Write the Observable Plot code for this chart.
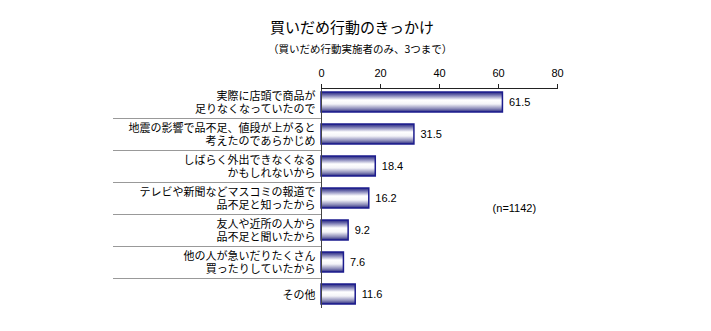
<!DOCTYPE html>
<html>
<head>
<meta charset="utf-8">
<script src="https://cdn.jsdelivr.net/npm/d3@7"></script>
<script src="https://cdn.jsdelivr.net/npm/@observablehq/plot@0.6"></script>
<style>
  body { margin: 0; background: #fff; font-family: "Noto Sans CJK JP", sans-serif; }
  #wrap { position: relative; width: 711px; height: 331px; }
  #title { position: absolute; left: 270px; top: 16px; font-size: 15px; color: #000; line-height: 22px; }
  #sub { position: absolute; left: 268px; top: 41px; font-size: 10.5px; color: #000; line-height: 16px; }
  #chart { position: absolute; left: 0; top: 60px; }
</style>
</head>
<body>
<div id="wrap">
  <div id="title">買いだめ行動のきっかけ</div>
  <div id="sub">（買いだめ行動実施者のみ、3つまで）</div>
  <div id="chart"></div>
</div>
<script>
const categories = [
  "実際に店頭で商品が\n足りなくなっていたので",
  "地震の影響で品不足、値段が上がると\n考えたのであらかじめ",
  "しばらく外出できなくなる\nかもしれないから",
  "テレビや新聞などマスコミの報道で\n品不足と知ったから",
  "友人や近所の人から\n品不足と聞いたから",
  "他の人が急いだりたくさん\n買ったりしていたから",
  "その他"
];
const values = [61.5, 31.5, 18.4, 16.2, 9.2, 7.6, 11.6];
const xTicks = [0, 20, 40, 60, 80];
const note = "(n=1142)";

const data = categories.map((c, i) => ({cat: c, value: values[i]}));

const chart = Plot.plot({
  width: 711,
  height: 271,
  marginLeft: 321,
  marginRight: 154,
  marginTop: 28,
  marginBottom: 23,
  style: {background: "transparent", fontFamily: "Noto Sans CJK JP, sans-serif"},
  x: {domain: [0, 80], ticks: xTicks},
  y: {domain: categories, range: [24, 251], padding: 0},
  marks: [
    Plot.axisX({anchor: "top", ticks: xTicks, tickSize: 5, tickPadding: 7, fontSize: 11,
      fontFamily: "Liberation Sans, Arial, sans-serif", stroke: "#222", label: null}),
    Plot.axisY({anchor: "left", tickSize: 0, tickPadding: 6, fontSize: 11, lineHeight: 1.2,
      label: null, tickFormat: d => d}),
    Plot.barX(data, {x: "value", y: "cat", fill: "url(#barGrad)", stroke: "#1c1c8e",
      strokeWidth: 1.5, insetTop: 6, insetBottom: 6}),
    Plot.text(data, {x: "value", y: "cat", text: d => d.value.toFixed(1), textAnchor: "start",
      dx: 6, fontSize: 11, fontFamily: "Liberation Sans, Arial, sans-serif", fill: "#000"}),
    Plot.text([note], {x: 58, y: [categories[3]], text: d => d, textAnchor: "start", dy: 10,
      fontSize: 11, fontFamily: "Liberation Sans, Arial, sans-serif", fill: "#000"}),
    Plot.ruleX([0], {stroke: "#444", strokeWidth: 1})
  ]
});

document.getElementById("chart").appendChild(chart);

const svg = d3.select(chart);
const defs = svg.insert("defs", ":first-child");
const g = defs.append("linearGradient").attr("id", "barGrad")
  .attr("x1", 0).attr("y1", 0).attr("x2", 0).attr("y2", 1);
[[0, "#24247f"], [0.12, "#6060a4"], [0.4, "#ffffff"], [0.6, "#f4f4f8"], [0.85, "#8484b4"], [1, "#24247f"]]
  .forEach(([o, c]) => g.append("stop").attr("offset", o).attr("stop-color", c));

const xs = chart.scale("x");
const ys = chart.scale("y");
const x0 = xs.apply(0), x80 = xs.apply(80);
// top axis line
svg.append("line").attr("x1", x0).attr("x2", x80).attr("y1", 28.5).attr("y2", 28.5)
  .attr("stroke", "#222");
// separators between category rows
categories.slice(1).forEach(c => {
  const yy = Math.round(ys.apply(c)) + 0.5;
  svg.append("line").attr("x1", x0 - 208).attr("x2", x0).attr("y1", yy).attr("y2", yy)
    .attr("stroke", "#999").attr("stroke-width", 1);
});
</script>
</body>
</html>
